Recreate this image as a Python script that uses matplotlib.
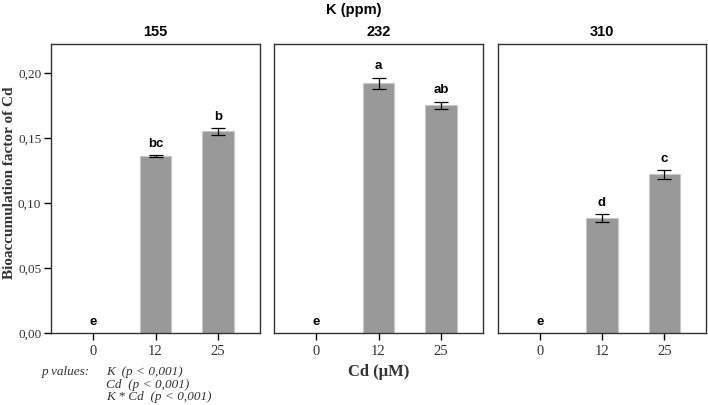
import numpy as np
import matplotlib
matplotlib.use('Agg')
import matplotlib.pyplot as plt
from matplotlib.ticker import FuncFormatter

k_levels = ['155', '232', '310']
cd_levels = ['0', '12', '25']
means = [[0.0, 0.136, 0.155],
         [0.0, 0.192, 0.175],
         [0.0, 0.0885, 0.122]]
errors = [[0.0, 0.001, 0.0027],
          [0.0, 0.0045, 0.003],
          [0.0, 0.003, 0.0035]]
letters = [['e', 'bc', 'b'],
           ['e', 'a', 'ab'],
           ['e', 'd', 'c']]

serif = 'Liberation Serif'
sans = 'Liberation Sans'
grey_txt = '#333333'

fig = plt.figure(figsize=(7.08, 4.05), dpi=100)
lefts = [51, 274, 498]
widths = [209, 209, 208]
bottom = 1 - 333 / 405
height = (333 - 44) / 405

x = np.arange(len(cd_levels))
for i, k in enumerate(k_levels):
    ax = fig.add_axes([lefts[i] / 708, bottom, widths[i] / 708, height])
    ax.bar(x, means[i], width=0.5, color='#999999', edgecolor='#c8c8c8', linewidth=0.8, zorder=2)
    ax.errorbar(x[1:], means[i][1:], yerr=errors[i][1:], fmt='none', ecolor='black',
                elinewidth=0.9, capsize=5, capthick=0.9, zorder=3)
    for j, lab in enumerate(letters[i]):
        y = means[i][j] + errors[i][j] + 0.004
        ax.text(x[j], y, lab, ha='center', va='bottom', fontsize=9.5,
                fontweight='bold', family=sans)
    ax.set_xlim(-0.67, 2.67)
    ax.set_ylim(0, 0.2223)
    ax.set_xticks(x)
    ax.set_xticklabels(cd_levels, family=serif, fontsize=10.5, color=grey_txt)
    ax.set_title(k, fontsize=10.5, fontweight='bold', family=sans, pad=6)
    for s in ax.spines.values():
        s.set_linewidth(1.0)
        s.set_color(grey_txt)
    ax.tick_params(axis='x', length=5, width=1)
    if i == 0:
        ax.set_yticks([0, 0.05, 0.10, 0.15, 0.20])
        ax.yaxis.set_major_formatter(FuncFormatter(lambda v, p: f'{v:.2f}'.replace('.', ',')))
        for t in ax.get_yticklabels():
            t.set_family(serif)
            t.set_fontsize(9.5)
            t.set_color(grey_txt)
        ax.tick_params(axis='y', length=5, width=1, pad=2)
        ax.set_ylabel('Bioaccumulation factor of Cd', family=serif, fontsize=11,
                      fontweight='bold', color=grey_txt)
        ax.yaxis.set_label_coords(-35 / 209, (333 - 183) / 289)
    else:
        ax.set_yticks([])

fig.text(0.5, 1 - 10 / 405, 'K (ppm)', ha='center', va='center', fontsize=10.5,
         fontweight='bold', family=sans)
fig.text(379 / 708, 1 - 372 / 405, 'Cd (\u00b5M)', ha='center', va='center', fontsize=12,
         fontweight='bold', family=serif, color=grey_txt)

ptxt = dict(ha='left', va='center', fontsize=9.5, style='italic', family=serif, color=grey_txt)
fig.text(42 / 708, 1 - 372 / 405, 'p values:', **ptxt)
fig.text(106 / 708, 1 - 372 / 405, 'K  (p < 0,001)', **ptxt)
fig.text(106 / 708, 1 - 385 / 405, 'Cd  (p < 0,001)', **ptxt)
fig.text(106 / 708, 1 - 397 / 405, 'K * Cd  (p < 0,001)', **ptxt)

plt.savefig('out.png', dpi=100)
